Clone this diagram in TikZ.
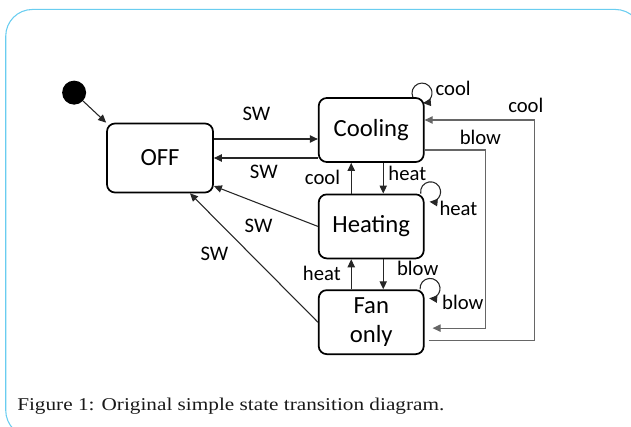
\documentclass[tikz,border=0pt]{standalone}
\usepackage{fontspec}
\setmainfont{Carlito}
\newfontfamily\captionfont[FakeStretch=1.18]{Liberation Serif}
\usetikzlibrary{arrows.meta, positioning}
\definecolor{framecol}{RGB}{105,205,240}

\begin{document}
\begin{tikzpicture}[
    state/.style={draw, rounded corners=6pt, line width=1.3pt, minimum width=78.75pt, minimum height=48pt, align=center, font=\fontsize{18.5pt}{22pt}\selectfont},
    lbl/.style={inner sep=1pt, text=black, font=\fontsize{15.5pt}{18pt}\selectfont},
    ar/.style={-{Triangle[length=6pt, width=5.5pt]}, line width=0.8pt, black!85},
    far/.style={ar, black!60},
    frame/.style={draw=framecol, line width=0.8pt, rounded corners=20pt}
]
\useasboundingbox (0,0) rectangle (473.25pt,319.5pt);
\draw[frame] (4.3pt,312.4pt) rectangle (481.5pt,-8.25pt);
% states
\node[state, minimum width=79.5pt, minimum height=51.75pt] (off) at (120pt,201pt) {OFF};
\node[state, right=78pt of off, yshift=21pt] (cooling) {Cooling};
\node[state, below=23pt of cooling] (heating) {Heating};
\node[state, below=22.5pt of heating] (fan) {Fan\\only};
\node[circle, fill=black, minimum size=18pt, inner sep=0pt, above left=16pt and 17.5pt of off.north west] (init) {};
% caption
\node[inner sep=0pt, anchor=base west, font=\captionfont\fontsize{13.5pt}{16pt}\selectfont, text=black!90] (cap) at (12.75pt,12pt) {Figure 1: Original simple state transition diagram.};
% SW transitions
\draw[ar] (init) -- (off.north west);
\draw[ar] ([yshift=14.25pt]off.east) -- ([yshift=14.25pt]off.east -| cooling.west) node[lbl, pos=0.41, above=12pt]{SW};
\draw[ar] (cooling.west |- off.east) -- (off.east) node[lbl, pos=0.52, below=4pt]{SW};
\draw[ar] (heating.west) -- ([yshift=5.5pt]off.south east) node[lbl, pos=0.57, below=10.5pt]{SW};
\draw[ar] (fan.west) -- ([xshift=22.5pt]off.south) node[lbl, pos=0.53, left=15pt]{SW};
% between neighbours
\draw[ar] ([xshift=9pt]cooling.south) -- ([xshift=9pt]heating.north) node[lbl, pos=0.34, right=2.5pt]{heat};
\draw[ar] ([xshift=-15pt]heating.north) -- ([xshift=-15pt]cooling.south) node[lbl, pos=0.52, left=7pt]{cool};
\draw[ar] ([xshift=9pt]heating.south) -- ([xshift=9pt]fan.north) node[lbl, pos=0.32, right=9pt]{blow};
\draw[ar] ([xshift=-15pt]fan.north) -- ([xshift=-15pt]heating.south) node[lbl, pos=0.52, left=6.5pt]{heat};
% self loops
\draw[ar] ([xshift=-8.8pt]cooling.north east) arc[start angle=204, end angle=-85, radius=7.5pt];
\node[lbl, above right=0pt and 7pt of cooling.north east] (lcool) {cool};
\draw[ar] ([xshift=-2.9pt]heating.north east) arc[start angle=190, end angle=-96, radius=7.5pt];
\node[lbl, below right=4.5pt and 10pt of heating.north east] (lheat) {heat};
\draw[ar] ([xshift=-3.4pt]fan.north east) arc[start angle=185, end angle=-95, radius=7.5pt];
\node[lbl, below right=3.5pt and 12pt of fan.north east] (lblow) {blow};
% long way round
\draw[far] ([yshift=-15pt]cooling.east) -- ++(45.5pt,0) node[lbl, pos=0.92, above=2.75pt]{blow} |- ([xshift=6pt,yshift=-4.5pt]fan.east);
\draw[far] ([xshift=3pt,yshift=-13.5pt]fan.east) -- ++(79.5pt,0) |- node[lbl, pos=0.54, above=4.25pt]{cool} ([yshift=7.5pt]cooling.east);
\end{tikzpicture}
\end{document}
